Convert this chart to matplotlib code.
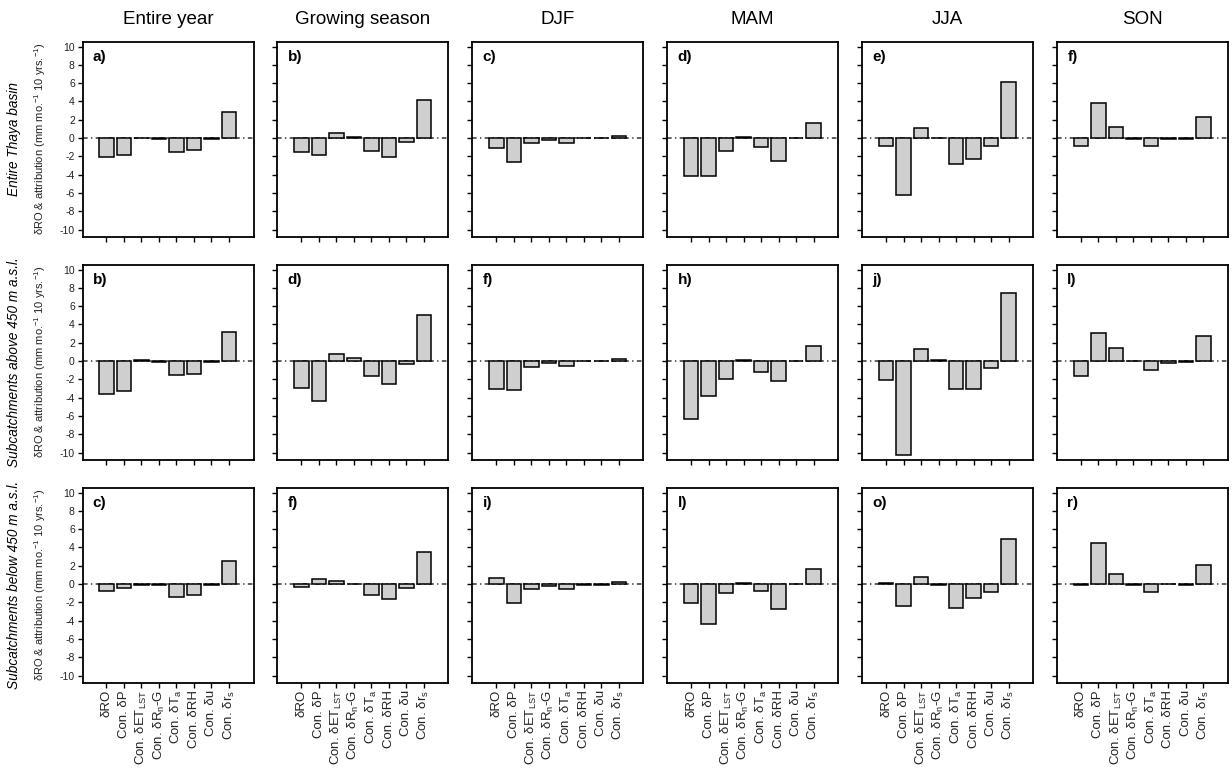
import matplotlib.pyplot as plt
import numpy as np

plt.rcParams['font.family'] = ['Liberation Sans', 'DejaVu Sans']
plt.rcParams['mathtext.fontset'] = 'custom'
plt.rcParams['mathtext.rm'] = 'Liberation Sans'
plt.rcParams['mathtext.it'] = 'Liberation Sans:italic'

periods = ['Entire year', 'Growing season', 'DJF', 'MAM', 'JJA', 'SON']
regions = ['Entire Thaya basin',
           'Subcatchments above 450 m a.s.l.',
           'Subcatchments below 450 m a.s.l.']
terms = ['δRO', 'Con. δP', r'Con. δET$_{\rm LST}$', r'Con. δR$_{\rm n}$-G',
         r'Con. δT$_{\rm a}$', 'Con. δRH', 'Con. δu', r'Con. δr$_{\rm s}$']

# valores: dRO, P, ET, Rn-G, Ta, RH, u, rs
basin_vals = [
    [-2.1, -1.85, 0.05, -0.15, -1.5, -1.3, -0.05, 2.8],
    [-1.5, -1.8, 0.55, 0.15, -1.4, -2.05, -0.4, 4.2],
    [-1.05, -2.6, -0.55, -0.2, -0.55, 0.05, -0.03, 0.25],
    [-4.1, -4.15, -1.45, 0.15, -1.0, -2.5, -0.02, 1.6],
    [-0.9, -6.2, 1.05, 0.05, -2.85, -2.3, -0.85, 6.1],
    [-0.9, 3.8, 1.25, -0.05, -0.9, -0.1, -0.15, 2.35],
]
above_vals = [
    [-3.6, -3.3, 0.15, -0.15, -1.55, -1.4, -0.05, 3.15],
    [-2.9, -4.4, 0.75, 0.3, -1.6, -2.45, -0.35, 5.0],
    [-3.0, -3.15, -0.6, -0.2, -0.55, 0.05, -0.02, 0.25],
    [-6.3, -3.85, -1.95, 0.15, -1.15, -2.2, -0.02, 1.6],
    [-2.05, -10.3, 1.3, 0.15, -3.1, -3.0, -0.7, 7.45],
    [-1.65, 3.05, 1.45, -0.02, -0.95, -0.25, -0.1, 2.7],
]
below_vals = [
    [-0.75, -0.45, -0.1, -0.15, -1.45, -1.2, -0.1, 2.5],
    [-0.3, 0.6, 0.35, 0.05, -1.2, -1.6, -0.45, 3.5],
    [0.7, -2.05, -0.55, -0.2, -0.55, -0.1, -0.05, 0.25],
    [-2.05, -4.4, -0.95, 0.1, -0.8, -2.7, -0.03, 1.6],
    [0.1, -2.4, 0.8, -0.15, -2.6, -1.55, -0.9, 4.9],
    [-0.15, 4.45, 1.1, -0.1, -0.9, 0.05, -0.15, 2.05],
]
letras = [['a', 'b', 'c', 'd', 'e', 'f'],
          ['b', 'd', 'f', 'h', 'j', 'l'],
          ['c', 'f', 'i', 'l', 'o', 'r']]

datos = [basin_vals, above_vals, below_vals]

W, H = 1232, 777
fig = plt.figure(figsize=(W / 100, H / 100), dpi=100)

lefts = [82.5 + 194.9 * j for j in range(6)]
tops = [42, 265, 488]
pw, ph = 171, 194.5
x = np.arange(len(terms))

for i, fila in enumerate(datos):
    for j, vals in enumerate(fila):
        ax = fig.add_axes([lefts[j] / W, 1 - (tops[i] + ph) / H, pw / W, ph / H])
        ax.axhline(0, color='#333333', lw=1.1, dashes=(3, 2.2, 0.9, 2.2), zorder=1)
        ax.bar(x, vals, width=0.83, color='#cfcfcf', edgecolor='black',
               linewidth=1.1, zorder=2)
        ax.set_xlim(-1.37, 8.4)
        ax.set_ylim(-10.75, 10.5)
        ax.set_yticks(range(-10, 11, 2))
        ax.set_xticks(x)
        for s in ax.spines.values():
            s.set_linewidth(1.3)
        ax.tick_params(direction='out', length=3.5, width=1.0, colors='black',
                       labelsize=7.5, labelcolor='#222222', pad=2)
        if j == 0:
            ax.set_yticklabels([str(v) for v in range(-10, 11, 2)])
        else:
            ax.set_yticklabels([])
        if i == 2:
            ax.set_xticklabels(terms, rotation=90, fontsize=9.5, color='#222222')
        else:
            ax.set_xticklabels([])
        ax.text(0.06, 0.96, letras[i][j] + ')', transform=ax.transAxes,
                fontsize=11, fontweight='bold', va='top', ha='left')

# titulos de columnas
for j, p in enumerate(periods):
    fig.text((lefts[j] + pw / 2) / W, 1 - 20 / H, p, fontsize=13.5,
             ha='center', va='center')

# etiquetas de filas
for i, r in enumerate(regions):
    yc = 1 - (tops[i] + ph / 2) / H
    fig.text(14 / W, yc, r, rotation=90, style='italic', fontsize=9.8,
             ha='center', va='center')
    fig.text(40 / W, yc, r'δRO & attribution (mm mo.$^{-1}$ 10 yrs.$^{-1}$)',
             rotation=90, fontsize=8, ha='center', va='center', color='#222222')

fig.savefig('out.png', dpi=100)
